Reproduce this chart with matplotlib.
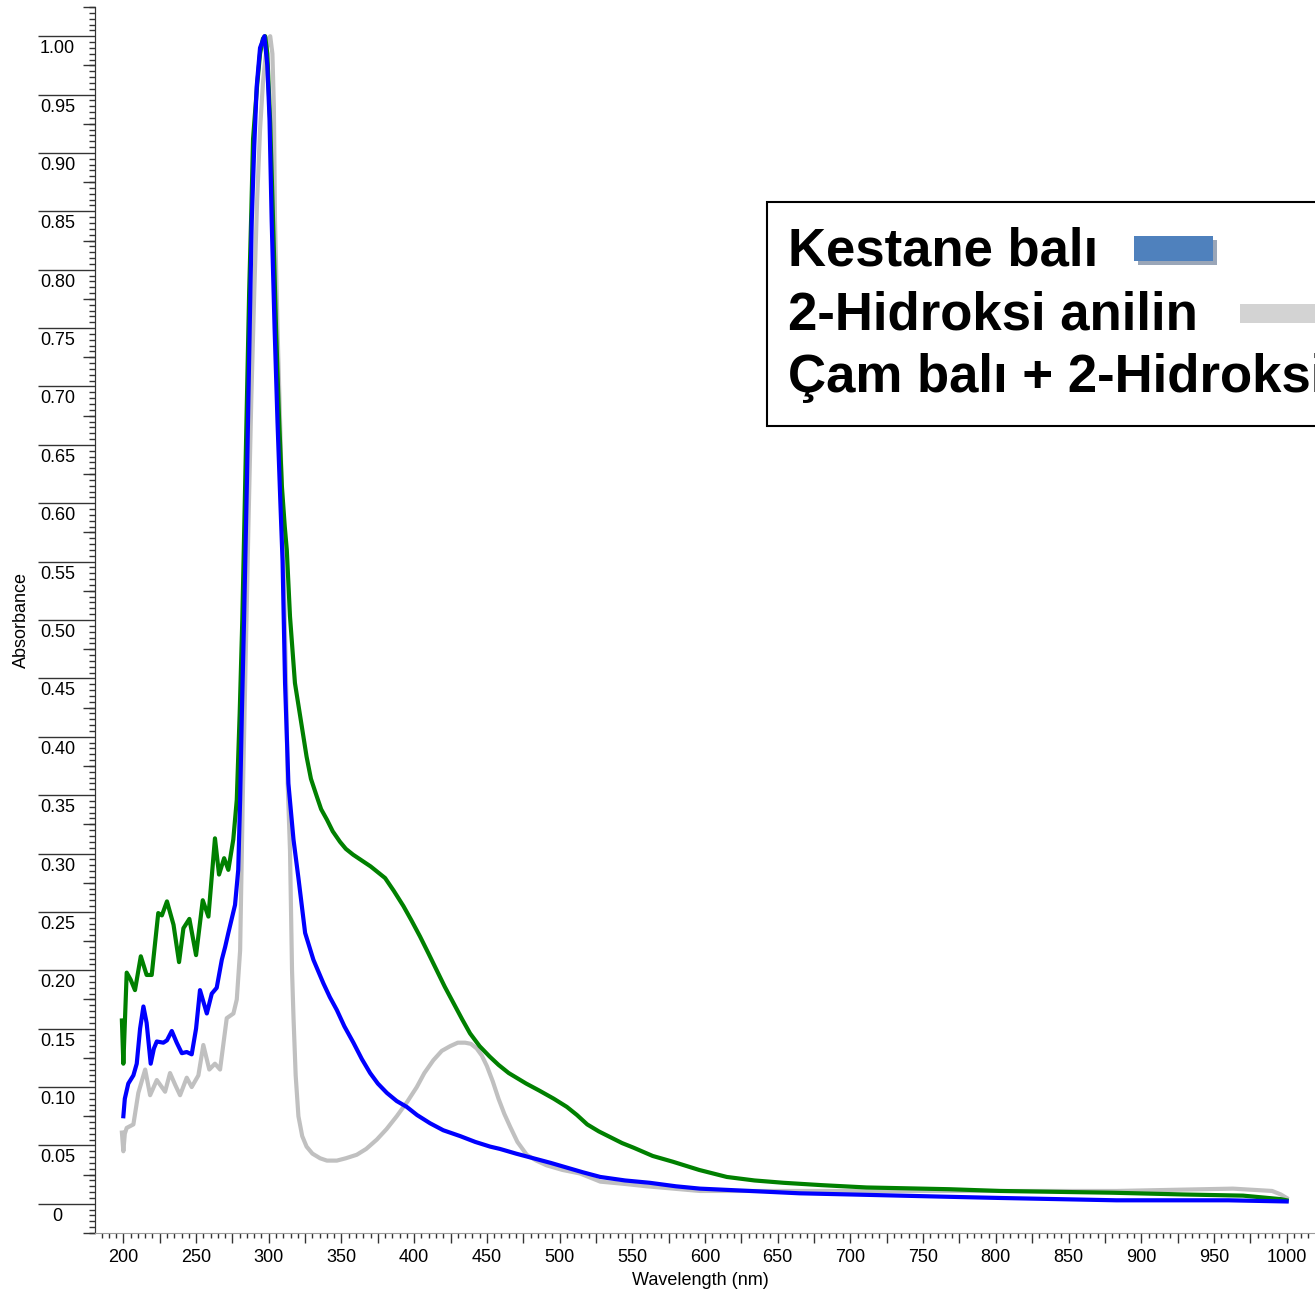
import numpy as np
import matplotlib
matplotlib.use("Agg")
import matplotlib.pyplot as plt
import matplotlib.transforms as mtransforms
from matplotlib.patches import Rectangle
from matplotlib.ticker import FixedLocator, MultipleLocator

plt.rcParams['font.family'] = ['Liberation Sans', 'DejaVu Sans']

# ---- data ----
# Çam balı + 2-Hidroksi anilin (green)
wl_cam = [199, 200, 202.3, 205, 208, 212, 216, 219.5, 224, 226.5, 230, 234.5, 238.3, 241.3,
          245.4, 250, 254.6, 258.5, 263, 265.8, 269.3, 272.2, 275.6, 278, 280, 281.8, 283.5,
          285, 286.5, 288, 289.2, 289.8, 292, 294, 296, 297.5, 299, 301, 303, 305, 307, 309,
          311, 312.4, 314.6, 318, 322.7, 326, 329, 333, 336, 340, 344, 349, 353, 358, 364, 370,
          380, 386, 392.6, 398, 404, 410, 415.5, 421, 427, 433, 438.4, 445, 452, 458, 465, 477,
          486, 496, 505, 512, 519, 527, 535, 543, 551, 564, 578, 596, 615, 634, 654, 680, 711,
          768, 803, 880, 929, 970, 996, 1000]
abs_cam = [0.157, 0.120, 0.198, 0.192, 0.183, 0.212, 0.196, 0.196, 0.249, 0.247, 0.259, 0.239,
           0.207, 0.236, 0.244, 0.213, 0.260, 0.246, 0.313, 0.282, 0.296, 0.286, 0.312, 0.346,
           0.42, 0.50, 0.60, 0.69, 0.78, 0.85, 0.912, 0.922, 0.958, 0.985, 0.998, 1.0, 0.985,
           0.925, 0.84, 0.75, 0.675, 0.615, 0.58, 0.56, 0.503, 0.446, 0.409, 0.383, 0.364,
           0.349, 0.338, 0.329, 0.319, 0.310, 0.304, 0.299, 0.294, 0.289, 0.279, 0.268, 0.255,
           0.243, 0.229, 0.214, 0.200, 0.186, 0.172, 0.158, 0.146, 0.135, 0.126, 0.119, 0.112,
           0.103, 0.097, 0.090, 0.083, 0.076, 0.068, 0.062, 0.057, 0.052, 0.048, 0.041, 0.036,
           0.029, 0.023, 0.020, 0.018, 0.016, 0.014, 0.0125, 0.011, 0.0095, 0.008, 0.007, 0.004,
           0.003]

# Kestane balı (blue)
wl_kestane = [200, 201, 203.4, 206.9, 209.2, 211.5, 213.8, 216, 218.8, 221, 223, 227.5, 230,
              233.3, 236.7, 240.2, 243.6, 247, 250, 252.7, 257.4, 260.8, 264.2, 267.7, 270,
              272.2, 276.8, 279, 280.3, 281.5, 283, 285, 286, 287.5, 288.3, 290, 291.7, 294,
              297, 299, 300.5, 302, 304, 306, 308, 309.5, 311.2, 313.5, 317, 320.4, 325, 330.7,
              337.5, 342, 346.8, 352, 358.2, 364, 369.7, 375, 381.2, 388, 394.9, 402, 410.9,
              420, 431.6, 442, 452.2, 459, 470, 482, 494, 505, 516, 528, 545, 562, 580, 596.5,
              631, 665, 700, 734, 768, 803, 883, 960, 1000]
abs_kestane = [0.075, 0.090, 0.103, 0.110, 0.120, 0.150, 0.169, 0.155, 0.120, 0.133, 0.139,
               0.138, 0.140, 0.148, 0.138, 0.129, 0.130, 0.128, 0.150, 0.183, 0.163, 0.180,
               0.185, 0.209, 0.220, 0.232, 0.256, 0.286, 0.346, 0.42, 0.50, 0.62, 0.69, 0.79,
               0.842, 0.905, 0.957, 0.99, 1.0, 0.975, 0.93, 0.842, 0.75, 0.67, 0.60, 0.55,
               0.446, 0.36, 0.312, 0.279, 0.232, 0.209, 0.189, 0.177, 0.166, 0.152, 0.138,
               0.124, 0.112, 0.103, 0.095, 0.088, 0.083, 0.076, 0.069, 0.063, 0.058, 0.053,
               0.049, 0.047, 0.043, 0.039, 0.035, 0.031, 0.027, 0.023, 0.020, 0.018, 0.015,
               0.013, 0.011, 0.009, 0.008, 0.007, 0.006, 0.005, 0.003, 0.003, 0.002]

# 2-Hidroksi anilin (grey)
wl_anilin = [199, 200, 201, 202.3, 206.9, 210.3, 215, 218.4, 223, 228.7, 232.1, 235.6, 239,
             243.6, 247, 251.6, 255, 259.1, 263, 266.5, 271.1, 275.7, 278, 280.3, 282.1, 284,
             286, 288, 290, 292, 294, 296, 298, 300, 301, 302.5, 303.5, 304.3, 306, 308, 310.5,
             312, 313, 314.6, 316, 317, 318.5, 320.4, 323, 326, 330, 335.3, 340, 346.8, 353,
             360.5, 367, 374.3, 381, 388, 395, 401.8, 407, 413.2, 419, 424.7, 430, 435, 439, 443,
             446.5, 450, 454, 458, 462, 466, 471, 477.4, 484, 491, 502, 514, 528, 545, 560,
             596.5, 768, 883, 963, 990, 996, 1000]
abs_anilin = [0.061, 0.045, 0.060, 0.065, 0.068, 0.095, 0.115, 0.093, 0.106, 0.096, 0.112,
              0.102, 0.093, 0.108, 0.100, 0.110, 0.136, 0.115, 0.120, 0.115, 0.159, 0.163,
              0.175, 0.217, 0.346, 0.46, 0.58, 0.69, 0.78, 0.86, 0.92, 0.96, 0.985, 0.998, 1.0,
              0.985, 0.94, 0.842, 0.75, 0.66, 0.53, 0.44, 0.36, 0.303, 0.20, 0.16, 0.11, 0.075,
              0.058, 0.049, 0.043, 0.039, 0.037, 0.037, 0.039, 0.042, 0.047, 0.055, 0.064, 0.075,
              0.087, 0.100, 0.112, 0.123, 0.131, 0.135, 0.138, 0.138, 0.137, 0.133, 0.127,
              0.118, 0.105, 0.090, 0.077, 0.066, 0.053, 0.042, 0.037, 0.033, 0.029, 0.026,
              0.019, 0.017, 0.015, 0.011, 0.011, 0.011, 0.013, 0.011, 0.008, 0.005]

legend_labels = ["Kestane balı", "2-Hidroksi anilin", "Çam balı + 2-Hidroksi anilin"]
x_labelled = list(range(200, 1001, 50))
y_labelled = [round(0.05 * i, 2) for i in range(21)]

W, H = 1315, 1293
fig = plt.figure(figsize=(W / 100, H / 100), dpi=100)
ax = fig.add_axes([95 / W, 1 - 1233 / H, 1 - 95 / W, (1233 - 7) / H])

ax.plot(wl_anilin, abs_anilin, color="#c0c0c0", lw=3.0, zorder=2)
ax.plot(wl_cam, abs_cam, color="#008000", lw=3.0, zorder=3)
ax.plot(wl_kestane, abs_kestane, color="#0000ff", lw=3.0, zorder=4)

ax.set_xlim(180.5, 1019.5)
ax.set_ylim(-0.025, 1.025)

for s in ["top", "right"]:
    ax.spines[s].set_visible(False)
ax.spines["left"].set_color("#333333")
ax.spines["bottom"].set_color("#9a9a9a")

# x ticks: every 25 (labels on 50s), minor every 5
xt = np.arange(175, 1026, 25)
ax.xaxis.set_major_locator(FixedLocator(xt))
ax.set_xticklabels([str(v) if v in x_labelled else "" for v in xt])
ax.xaxis.set_minor_locator(MultipleLocator(5))
ax.tick_params(axis="x", which="major", length=7.2, width=1, color="#333333",
               labelsize=13, pad=4.5)
ax.tick_params(axis="x", which="minor", length=3.6, width=1, color="#333333")

# y ticks: long major lines with labels underneath, medium ticks at .025, minor every .005
ax.set_yticks(y_labelled)
ax.set_yticklabels(["0" if v == 0 else f"{v:.2f}" for v in y_labelled])
ax.yaxis.set_minor_locator(MultipleLocator(0.005))
ax.tick_params(axis="y", which="major", length=41, width=1, color="#333333",
               labelsize=13, pad=-14)
ax.tick_params(axis="y", which="minor", length=4.3, width=1, color="#333333")
shift = mtransforms.ScaledTranslation(0, -0.04, fig.dpi_scale_trans)
for lab in ax.get_yticklabels():
    lab.set_horizontalalignment("center")
    lab.set_verticalalignment("top")
    lab.set_transform(lab.get_transform() + shift)

sec = ax.secondary_yaxis("left", functions=(lambda y: y, lambda y: y))
sec.set_yticks(np.arange(-0.025, 1.03, 0.05))
sec.set_yticklabels([])
sec.tick_params(axis="y", which="major", length=8.6, width=1, color="#333333")
sec.tick_params(axis="y", which="minor", length=0)
sec.spines["left"].set_color("#333333")

ax.set_xlabel("Wavelength (nm)", fontsize=13)
ax.set_ylabel("Absorbance", fontsize=13)
ax.xaxis.set_label_coords(0.496, -0.032)
ax.yaxis.set_label_coords(-0.053, 0.5)


# ---- legend box drawn like the reference overlay ----
def px(x, y):
    return x / W, 1 - y / H


fig.add_artist(Rectangle(px(767, 426), 700 / W, 224 / H, transform=fig.transFigure,
                         facecolor="white", edgecolor="black", lw=1.5, zorder=10))
for lab, base in zip(legend_labels, [265, 329, 392]):
    fig.text(*px(788, base), lab, fontsize=38, fontweight="bold", va="baseline",
             ha="left", zorder=11)
fig.add_artist(Rectangle(px(1138, 265), 79 / W, 25 / H, transform=fig.transFigure,
                         facecolor="#9aa6b8", edgecolor="none", zorder=11))
fig.add_artist(Rectangle(px(1134, 261), 79 / W, 25 / H, transform=fig.transFigure,
                         facecolor="#4f81bd", edgecolor="none", zorder=12))
fig.add_artist(Rectangle(px(1240, 323), 90 / W, 19 / H, transform=fig.transFigure,
                         facecolor="#d3d3d3", edgecolor="none", zorder=11))

fig.savefig("out.png", dpi=100)
